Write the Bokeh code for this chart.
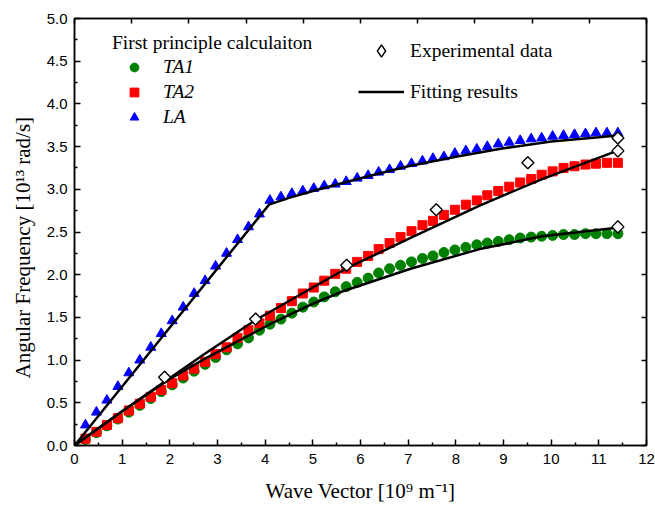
import numpy as np
from bokeh.plotting import figure
from bokeh.models import Range1d, LinearAxis, FixedTicker, Legend, LegendItem
from bokeh.embed import file_html
from bokeh.resources import INLINE

# ---------------- data ----------------
wave_vector = [0.23, 0.46, 0.68, 0.91, 1.14, 1.37, 1.60, 1.82, 2.05, 2.28,
               2.51, 2.74, 2.96, 3.19, 3.42, 3.65, 3.88, 4.10, 4.33, 4.56,
               4.79, 5.02, 5.24, 5.47, 5.70, 5.93, 6.16, 6.38, 6.61, 6.84,
               7.07, 7.30, 7.52, 7.75, 7.98, 8.21, 8.44, 8.66, 8.89, 9.12,
               9.35, 9.58, 9.80, 10.03, 10.26, 10.49, 10.72, 10.94, 11.17, 11.40]
ta1 = [0.07, 0.15, 0.23, 0.31, 0.39, 0.47, 0.55, 0.63, 0.71, 0.79,
       0.87, 0.95, 1.03, 1.12, 1.19, 1.26, 1.35, 1.42, 1.48, 1.55,
       1.62, 1.68, 1.74, 1.80, 1.86, 1.91, 1.96, 2.02, 2.07, 2.11,
       2.15, 2.19, 2.22, 2.26, 2.29, 2.32, 2.35, 2.37, 2.39, 2.41,
       2.43, 2.44, 2.45, 2.46, 2.47, 2.47, 2.48, 2.48, 2.48, 2.48]
ta2 = [0.08, 0.16, 0.24, 0.32, 0.41, 0.49, 0.57, 0.65, 0.73, 0.82,
       0.90, 0.98, 1.07, 1.15, 1.26, 1.35, 1.43, 1.52, 1.61, 1.69,
       1.78, 1.85, 1.93, 2.01, 2.07, 2.15, 2.22, 2.30, 2.37, 2.44,
       2.51, 2.58, 2.63, 2.70, 2.76, 2.82, 2.87, 2.93, 2.98, 3.03,
       3.08, 3.12, 3.17, 3.21, 3.25, 3.27, 3.29, 3.30, 3.31, 3.31]
la = [0.24, 0.39, 0.53, 0.69, 0.85, 1.00, 1.15, 1.31, 1.46, 1.62,
      1.78, 1.93, 2.10, 2.25, 2.41, 2.56, 2.71, 2.87, 2.91, 2.95,
      2.98, 3.01, 3.04, 3.06, 3.09, 3.13, 3.16, 3.20, 3.23, 3.27,
      3.30, 3.33, 3.36, 3.38, 3.42, 3.45, 3.47, 3.50, 3.53, 3.55,
      3.57, 3.59, 3.60, 3.62, 3.63, 3.64, 3.65, 3.66, 3.66, 3.66]

exp_x = [1.89, 3.80, 5.71, 7.59, 9.51, 11.40, 11.40, 11.40]
exp_y = [0.80, 1.48, 2.11, 2.76, 3.31, 3.60, 3.45, 2.56]

fit_la_x = [0, 4.08, 4.5, 5.0, 6.0, 7.0, 8.0, 9.0, 10.0, 11.0, 11.38]
fit_la_y = [0, 2.82, 2.90, 2.98, 3.13, 3.27, 3.38, 3.48, 3.56, 3.61, 3.63]
fit_ta2_x = [0, 1.0, 2.0, 2.75, 3.8, 5.69, 7.05, 8.5, 9.81, 11.38]
fit_ta2_y = [0, 0.40, 0.79, 1.08, 1.47, 2.07, 2.43, 2.81, 3.12, 3.45]
fit_ta1_x = [0, 1.0, 2.0, 2.75, 4.1, 5.0, 5.6, 7.05, 8.5, 9.81, 11.38]
fit_ta1_y = [0, 0.40, 0.78, 1.02, 1.42, 1.66, 1.80, 2.07, 2.30, 2.45, 2.55]

x_ticks = [0, 1, 2, 3, 4, 5, 6, 7, 8, 9, 10, 11, 12]
x_minor = [0.5, 1.5, 2.5, 3.5, 4.5, 5.5, 6.5, 7.5, 8.5, 9.5, 10.5, 11.5]
y_ticks = [0.0, 0.5, 1.0, 1.5, 2.0, 2.5, 3.0, 3.5, 4.0, 4.5, 5.0]
y_tick_labels = ["0.0", "0.5", "1.0", "1.5", "2.0", "2.5", "3.0", "3.5", "4.0", "4.5", "5.0"]
y_minor = [0.25, 0.75, 1.25, 1.75, 2.25, 2.75, 3.25, 3.75, 4.25, 4.75]
top_ticks = [0.0, 1.2, 2.4, 3.6, 4.8, 6.0, 7.2, 8.4, 9.6, 10.8, 12.0]

x_title = "Wave Vector [10\u2079 m\u207b\u00b9]"
y_title = "Angular Frequency [10\u00b9\u00b3 rad/s]" + "\u00a0" * 6

# ---------------- figure ----------------
p = figure(width=655, height=509, x_range=Range1d(0, 12), y_range=Range1d(0, 5),
           output_backend="svg", toolbar_location=None,
           min_border_left=74, min_border_right=9, min_border_top=18, min_border_bottom=64)
p.xgrid.grid_line_color = None
p.ygrid.grid_line_color = None
p.outline_line_color = "black"
p.outline_line_width = 1.5
p.background_fill_color = "white"
p.border_fill_color = "white"

def style_axis(ax, maj_in=6, min_in=3):
    ax.axis_line_width = 1.5
    ax.axis_line_color = "black"
    ax.major_tick_line_width = 1.5
    ax.minor_tick_line_width = 1.5
    ax.major_tick_in = maj_in
    ax.major_tick_out = 0
    ax.minor_tick_in = min_in
    ax.minor_tick_out = 0
    ax.major_label_text_font = "Liberation Sans"
    ax.major_label_text_font_size = "15px"
    ax.major_label_text_color = "black"
    ax.axis_label_text_font = "Liberation Serif"
    ax.axis_label_text_font_style = "normal"
    ax.axis_label_text_color = "black"

xa = p.xaxis[0]
xa.ticker = FixedTicker(ticks=x_ticks, minor_ticks=x_minor)
style_axis(xa)
xa.major_label_standoff = 8
xa.axis_label = x_title
xa.axis_label_text_font_size = "21px"
xa.axis_label_standoff = 12

ya = p.yaxis[0]
ya.ticker = FixedTicker(ticks=y_ticks, minor_ticks=y_minor)
ya.major_label_overrides = {t: s for t, s in zip(y_ticks, y_tick_labels)}
style_axis(ya)
ya.major_label_standoff = 7
ya.axis_label = y_title
ya.axis_label_text_font_size = "21px"
ya.axis_label_standoff = 9

top = LinearAxis(ticker=FixedTicker(ticks=top_ticks, minor_ticks=[]))
style_axis(top, maj_in=5)
top.major_label_overrides = {t: "" for t in top_ticks}
top.major_label_standoff = 0
p.add_layout(top, "above")

right = LinearAxis(ticker=FixedTicker(ticks=y_ticks, minor_ticks=[]))
style_axis(right, maj_in=5)
right.major_label_overrides = {t: "" for t in y_ticks}
right.major_label_standoff = 0
p.add_layout(right, "right")

# ---------------- glyphs ----------------
r_ta1 = p.scatter(wave_vector, ta1, marker="circle", size=10, fill_color="#008000", line_color="#008000")
r_ta2 = p.scatter(wave_vector, ta2, marker="square", size=9, fill_color="#FF0000", line_color="#FF0000")
r_la = p.scatter(wave_vector, la, marker="triangle", size=10, fill_color="#0000FF", line_color="#0000FF")

r_fla = p.line(fit_la_x, fit_la_y, line_color="black", line_width=2.5)
r_fta2 = p.line(fit_ta2_x, fit_ta2_y, line_color="black", line_width=2.5)
r_fta1 = p.line(fit_ta1_x, fit_ta1_y, line_color="black", line_width=2.5)

# legend key for the experimental points (legend glyphs are never rotated);
# drawn first, hidden underneath the rotated squares below
r_exp_key = p.scatter(exp_x, exp_y, marker="diamond", size=11, fill_color="white",
                      line_color="black", line_width=1.4)
r_exp = p.scatter(exp_x, exp_y, marker="square", angle=np.pi / 4, size=8.5,
                  fill_color="white", line_color="black", line_width=1.4)

# ---------------- legends ----------------
leg_font = "19.5px"
leg1 = Legend(items=[LegendItem(label="TA1", renderers=[r_ta1]),
                     LegendItem(label="TA2", renderers=[r_ta2]),
                     LegendItem(label="LA", renderers=[r_la])],
              title="First principle calculaiton",
              location=(33, 312), margin=0, padding=5, spacing=3,
              glyph_width=44, glyph_height=22, label_height=22, label_standoff=7,
              title_standoff=2,
              title_text_font="Liberation Serif", title_text_font_size=leg_font,
              title_text_font_style="normal", title_text_color="black",
              label_text_font="Liberation Serif", label_text_font_size=leg_font,
              label_text_font_style="italic", label_text_color="black",
              border_line_alpha=0, background_fill_alpha=0)
p.add_layout(leg1)

leg2 = Legend(items=[LegendItem(label="Experimental data", renderers=[r_exp_key]),
                     LegendItem(label="Fitting results", renderers=[r_fla])],
              location=(279, 333), margin=0, padding=5, spacing=10,
              glyph_width=46, glyph_height=31, label_height=31, label_standoff=6,
              label_text_font="Liberation Serif", label_text_font_size=leg_font,
              label_text_font_style="normal", label_text_color="black",
              border_line_alpha=0, background_fill_alpha=0)
p.add_layout(leg2)

open("out.html", "w").write(file_html(p, INLINE))
